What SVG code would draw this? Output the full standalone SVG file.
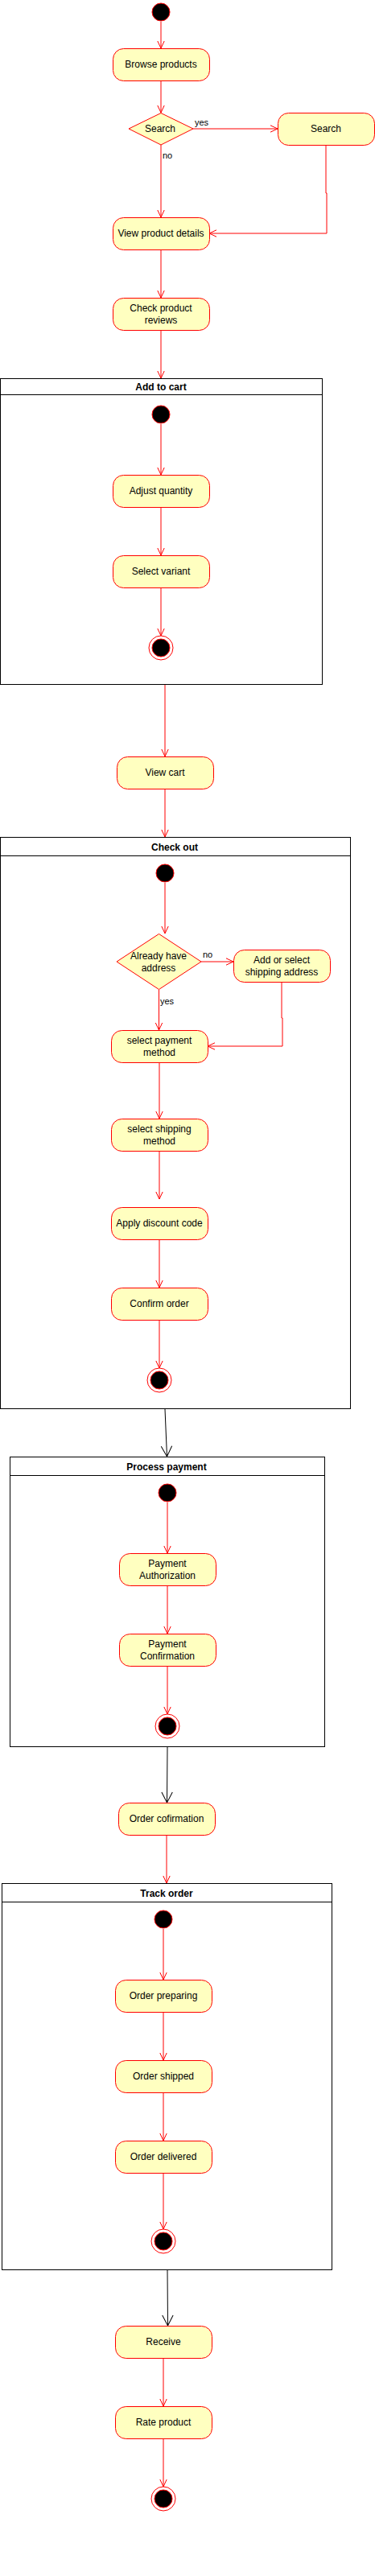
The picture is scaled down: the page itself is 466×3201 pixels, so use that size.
<svg xmlns="http://www.w3.org/2000/svg" width="466" height="3201" viewBox="0 0 466 3201">
<style>
.act{fill:#ffffc0;stroke:#ff0000;stroke-width:1}
.dec{fill:#ffffc0;stroke:#ff0000;stroke-width:1}
.ini{fill:#000000;stroke:#ff0000;stroke-width:1}
.fo{fill:none;stroke:#ff0000;stroke-width:1}
.fi{fill:#000000;stroke:#ff0000;stroke-width:1}
.cont{fill:#ffffff;stroke:#000000;stroke-width:1}
.hl{stroke:#000000;stroke-width:1}
.e{fill:none;stroke:#ff0000;stroke-width:1;marker-end:url(#ar)}
.eb{fill:none;stroke:#000000;stroke-width:1;marker-end:url(#ab)}
text{font-family:"Liberation Sans",Arial,Helvetica,sans-serif;fill:#000000}
.t{font-size:12px;text-anchor:middle}
.tt{font-size:12px;font-weight:bold;text-anchor:middle}
.lb{font-size:11px}
</style>
<defs>
<marker id="ar" markerUnits="userSpaceOnUse" markerWidth="12" markerHeight="10" viewBox="0 0 12 10" refX="10" refY="5" orient="auto"><path d="M1,0.8 L10,5 L1,9.2" fill="none" stroke="#ff0000" stroke-width="1"/></marker>
<marker id="ab" markerUnits="userSpaceOnUse" markerWidth="16" markerHeight="16" viewBox="0 0 16 16" refX="14" refY="8" orient="auto"><path d="M1,1.3 L14,8 L1,14.7" fill="none" stroke="#000000" stroke-width="1"/></marker>
</defs>
<rect width="466" height="3201" fill="#ffffff"/>

<g id="containers">
<g id="add-to-cart"><rect class="cont" x="0.5" y="470.5" width="400" height="380"/><line class="hl" x1="0.5" y1="490.5" x2="400.5" y2="490.5"/><text class="tt" x="200" y="485">Add to cart</text></g>
<g id="check-out"><rect class="cont" x="0.5" y="1040.5" width="435" height="710"/><line class="hl" x1="0.5" y1="1063.5" x2="435.5" y2="1063.5"/><text class="tt" x="217" y="1057">Check out</text></g>
<g id="process-payment"><rect class="cont" x="12.5" y="1810.5" width="391" height="360"/><line class="hl" x1="12.5" y1="1833.5" x2="403.5" y2="1833.5"/><text class="tt" x="207" y="1827">Process payment</text></g>
<g id="track-order"><rect class="cont" x="2.5" y="2340.5" width="410" height="480"/><line class="hl" x1="2.5" y1="2363.5" x2="412.5" y2="2363.5"/><text class="tt" x="207" y="2357">Track order</text></g>
</g>

<g id="connectors">
<path class="e" d="M200,27 L200,60"/>
<path class="e" d="M200,100 L200,140"/>
<path class="e" d="M240,160 L345,160"/>
<text class="lb" x="242" y="156">yes</text>
<path class="e" d="M200,180 L200,270"/>
<text class="lb" x="202" y="197">no</text>
<path class="e" d="M405,180 L405,240 L406,240 L406,290 L260,290"/>
<path class="e" d="M200,310 L200,370"/>
<path class="e" d="M200,410 L200,470"/>
<path class="e" d="M200,527 L200,590"/>
<path class="e" d="M200,630 L200,690"/>
<path class="e" d="M200,730 L200,790"/>
<path class="e" d="M205,851 L205,940"/>
<path class="e" d="M205,980 L205,1040"/>
<path class="e" d="M205,1097 L205,1160"/>
<path class="e" d="M250,1195 L290,1195"/>
<text class="lb" x="252" y="1190">no</text>
<path class="e" d="M197.5,1230 L197.5,1280"/>
<text class="lb" x="199" y="1248">yes</text>
<path class="e" d="M350,1220 L350,1265 L351,1265 L351,1300 L258,1300"/>
<path class="e" d="M198,1320 L198,1390"/>
<path class="e" d="M198,1430 L198,1490"/>
<path class="e" d="M198,1540 L198,1600"/>
<path class="e" d="M198,1640 L198,1700"/>
<path class="eb" d="M205,1751 L207.5,1810"/>
<path class="e" d="M208,1867 L208,1930"/>
<path class="e" d="M208,1970 L208,2030"/>
<path class="e" d="M208,2070 L208,2130"/>
<path class="eb" d="M208,2171 L207.5,2240"/>
<path class="e" d="M207,2280 L207,2340"/>
<path class="e" d="M203,2397 L203,2460"/>
<path class="e" d="M203,2500 L203,2560"/>
<path class="e" d="M203,2600 L203,2660"/>
<path class="e" d="M203,2700 L203,2770"/>
<path class="eb" d="M208,2821 L208.5,2890"/>
<path class="e" d="M203,2930 L203,2990"/>
<path class="e" d="M203,3030 L203,3090"/>
</g>

<g id="start"><circle class="ini" cx="200" cy="15" r="11"/></g>
<g id="browse-products"><rect class="act" x="140.5" y="60.5" width="120" height="40" rx="13"/><text class="t" x="200" y="84">Browse products</text></g>
<g id="search-decision"><polygon class="dec" points="200,140.5 240,160 200,180 160,160"/><text class="t" x="199" y="164">Search</text></g>
<g id="search"><rect class="act" x="345.5" y="140.5" width="120" height="40" rx="13"/><text class="t" x="405" y="164">Search</text></g>
<g id="view-product-details"><rect class="act" x="140.5" y="270.5" width="120" height="40" rx="13"/><text class="t" x="200" y="294">View product details</text></g>
<g id="check-product-reviews"><rect class="act" x="140.5" y="370.5" width="120" height="40" rx="13"/><text class="t" x="200" y="387">Check product</text><text class="t" x="200" y="402">reviews</text></g>

<g id="cart-start"><circle class="ini" cx="200" cy="515" r="11"/></g>
<g id="adjust-quantity"><rect class="act" x="140.5" y="590.5" width="120" height="40" rx="13"/><text class="t" x="200" y="614">Adjust quantity</text></g>
<g id="select-variant"><rect class="act" x="140.5" y="690.5" width="120" height="40" rx="13"/><text class="t" x="200" y="714">Select variant</text></g>
<g id="cart-end"><circle class="fo" cx="200" cy="805" r="15"/><circle class="fi" cx="200" cy="805" r="11"/></g>

<g id="view-cart"><rect class="act" x="145.5" y="940.5" width="120" height="40" rx="13"/><text class="t" x="205" y="964">View cart</text></g>

<g id="checkout-start"><circle class="ini" cx="205" cy="1085" r="11"/></g>
<g id="address-decision"><polygon class="dec" points="197.5,1160.5 250,1195 197.5,1229.5 145,1195"/><text class="t" x="197" y="1192">Already have</text><text class="t" x="197" y="1207">address</text></g>
<g id="add-shipping-address"><rect class="act" x="290.5" y="1180.5" width="120" height="40" rx="13"/><text class="t" x="350" y="1197">Add or select</text><text class="t" x="350" y="1212">shipping address</text></g>
<g id="select-payment-method"><rect class="act" x="138.5" y="1280.5" width="120" height="40" rx="13"/><text class="t" x="198" y="1297">select payment</text><text class="t" x="198" y="1312">method</text></g>
<g id="select-shipping-method"><rect class="act" x="138.5" y="1390.5" width="120" height="40" rx="13"/><text class="t" x="198" y="1407">select shipping</text><text class="t" x="198" y="1422">method</text></g>
<g id="apply-discount-code"><rect class="act" x="138.5" y="1500.5" width="120" height="40" rx="13"/><text class="t" x="198" y="1524">Apply discount code</text></g>
<g id="confirm-order"><rect class="act" x="138.5" y="1600.5" width="120" height="40" rx="13"/><text class="t" x="198" y="1624">Confirm order</text></g>
<g id="checkout-end"><circle class="fo" cx="198" cy="1715" r="15"/><circle class="fi" cx="198" cy="1715" r="11"/></g>

<g id="payment-start"><circle class="ini" cx="208" cy="1855" r="11"/></g>
<g id="payment-authorization"><rect class="act" x="148.5" y="1930.5" width="120" height="40" rx="13"/><text class="t" x="208" y="1947">Payment</text><text class="t" x="208" y="1962">Authorization</text></g>
<g id="payment-confirmation"><rect class="act" x="148.5" y="2030.5" width="120" height="40" rx="13"/><text class="t" x="208" y="2047">Payment</text><text class="t" x="208" y="2062">Confirmation</text></g>
<g id="payment-end"><circle class="fo" cx="208" cy="2145" r="15"/><circle class="fi" cx="208" cy="2145" r="11"/></g>

<g id="order-confirmation"><rect class="act" x="147.5" y="2240.5" width="120" height="40" rx="13"/><text class="t" x="207" y="2264">Order cofirmation</text></g>

<g id="track-start"><circle class="ini" cx="203" cy="2385" r="11"/></g>
<g id="order-preparing"><rect class="act" x="143.5" y="2460.5" width="120" height="40" rx="13"/><text class="t" x="203" y="2484">Order preparing</text></g>
<g id="order-shipped"><rect class="act" x="143.5" y="2560.5" width="120" height="40" rx="13"/><text class="t" x="203" y="2584">Order shipped</text></g>
<g id="order-delivered"><rect class="act" x="143.5" y="2660.5" width="120" height="40" rx="13"/><text class="t" x="203" y="2684">Order delivered</text></g>
<g id="track-end"><circle class="fo" cx="203" cy="2785" r="15"/><circle class="fi" cx="203" cy="2785" r="11"/></g>

<g id="receive"><rect class="act" x="143.5" y="2890.5" width="120" height="40" rx="13"/><text class="t" x="203" y="2914">Receive</text></g>
<g id="rate-product"><rect class="act" x="143.5" y="2990.5" width="120" height="40" rx="13"/><text class="t" x="203" y="3014">Rate product</text></g>
<g id="end"><circle class="fo" cx="203" cy="3105" r="15"/><circle class="fi" cx="203" cy="3105" r="11"/></g>
</svg>
